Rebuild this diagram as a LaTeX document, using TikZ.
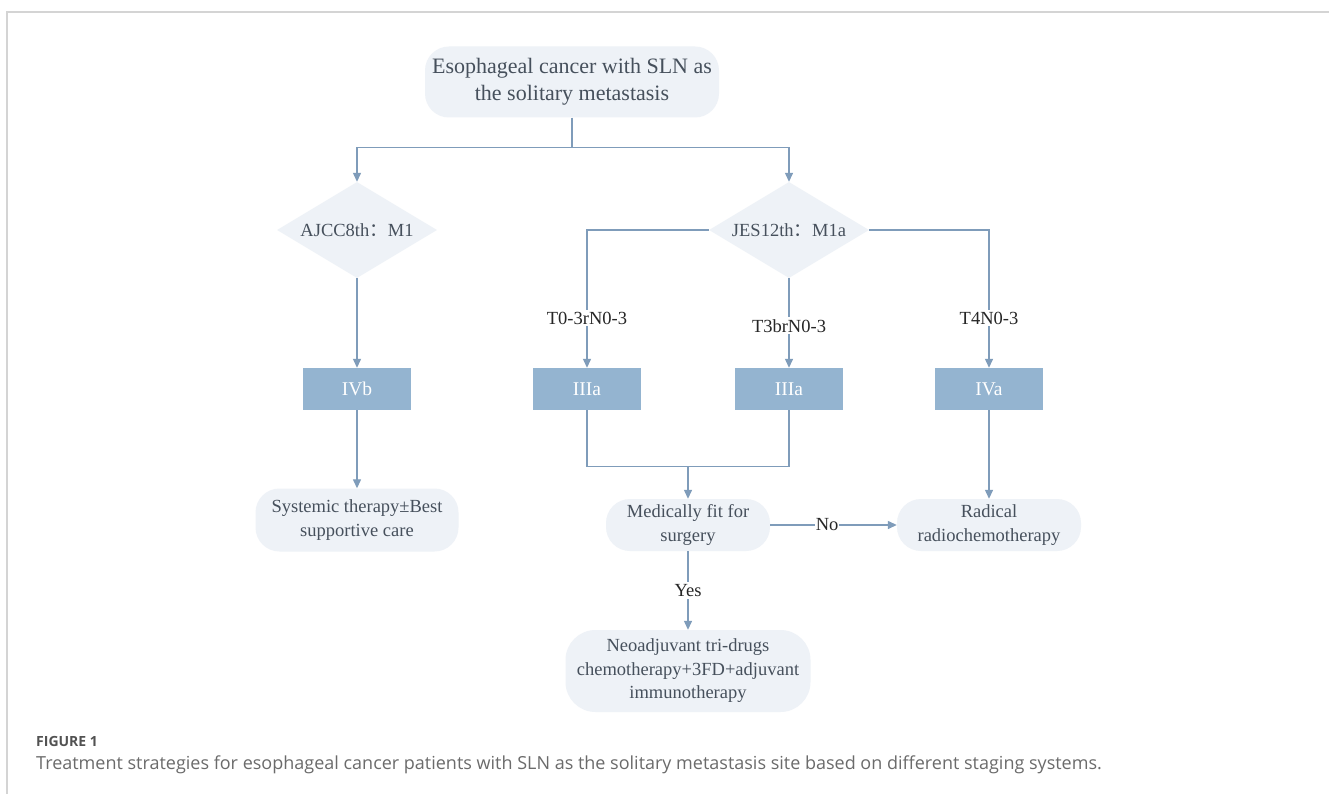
\documentclass[tikz,border=0pt]{standalone}
\usepackage{fontspec}
\setmainfont{Liberation Serif}
\newfontfamily\capfont{Open Sans}
\newfontfamily\cjkfont{Noto Sans CJK SC}
\usetikzlibrary{shapes.geometric,arrows.meta}
\definecolor{ln}{HTML}{7F9CBA}
\definecolor{bx}{HTML}{94B4D0}
\definecolor{lt}{HTML}{EEF2F7}
\definecolor{tx}{HTML}{46505C}
\definecolor{frame}{HTML}{D4D4D4}
\begin{document}
\begin{tikzpicture}[x=1pt,y=-1pt,
  conn/.style={draw=ln, line width=1.3pt},
  arr/.style={conn, -{Triangle[length=9pt,width=8pt]}},
  soft/.style={fill=lt, rounded corners=24pt, text=tx, align=center, inner sep=0pt, font=\fontsize{18.5}{23.5}\selectfont},
  dia/.style={diamond, fill=lt, aspect=1.67, minimum width=160pt, minimum height=96pt, inner sep=0pt, text=tx, font=\fontsize{18.5}{20}\selectfont},
  stage/.style={fill=bx, minimum width=108pt, minimum height=42pt, inner sep=0pt, text=white, font=\fontsize{19.5}{20}\selectfont},
  lab/.style={fill=white, text=black!85, inner sep=2pt, font=\fontsize{18.5}{20}\selectfont}]
\useasboundingbox (0,0) rectangle (1329,794);
\fill[white] (0,0) rectangle (1329,794);
\draw[frame, line width=1.5pt] (1329,12) -- (7,12) -- (7,794);

% nodes
\node[soft, minimum width=294pt, minimum height=71pt, font=\fontsize{22}{27}\selectfont] (top) at (572,82) {Esophageal cancer with SLN as\\the solitary metastasis};
\node[dia] (ajcc) at (357,230) {AJCC8th{\cjkfont ：}M1};
\node[dia] (jes) at (789,230) {JES12th{\cjkfont ：}M1a};
\node[stage] (ivb) at (357,389) {IVb};
\node[stage] (iiia1) at (587,389) {IIIa};
\node[stage] (iiia2) at (789,389) {IIIa};
\node[stage] (iva) at (989,389) {IVa};
\node[soft, minimum width=203pt, minimum height=63pt] (sys) at (357,520) {Systemic therapy±Best\\supportive care};
\node[soft, minimum width=164pt, minimum height=52pt] (med) at (688,525) {Medically fit for\\surgery};
\node[soft, minimum width=184pt, minimum height=52pt] (rad) at (989,525) {Radical\\radiochemotherapy};
\node[soft, minimum width=245pt, minimum height=82pt, rounded corners=30pt] (neo) at (688,671) {Neoadjuvant tri-drugs\\chemotherapy+3FD+adjuvant\\immunotherapy};

% connectors
\draw[arr] (top.south) -- ++(0,30) coordinate (split) -| (ajcc.north);
\draw[arr] (split) -| (jes.north);
\draw[arr] (ajcc.south) -- (ivb.north);
\draw[arr] (jes.west) -| node[lab, pos=0.82] {T0-3rN0-3} (iiia1.north);
\draw[arr] (jes.south) -- node[lab, pos=0.53] {T3brN0-3} (iiia2.north);
\draw[arr] (jes.east) -| node[lab, pos=0.82] {T4N0-3} (iva.north);
\draw[arr] (ivb.south) -- (sys.north);
\draw[conn] (iiia1.south) -- ++(0,56) coordinate (mergeL) -- (mergeL -| iiia2.south) -- (iiia2.south);
\coordinate (merge) at (mergeL -| med.north);
\draw[arr] (merge) -- (med.north);
\draw[arr] (iva.south) -- (rad.north);
\draw[arr] (med.east) -- node[lab, pos=0.45, inner sep=1pt] {No} (rad.west);
\draw[arr] (med.south) -- node[lab, pos=0.5] {Yes} (neo.north);

% caption
\node[anchor=west, inner sep=0pt, text=black!68, font=\capfont\fontsize{14}{16}\selectfont\bfseries] (fig) at (36,741) {FIGURE 1};
\node[anchor=west, inner sep=0pt, text=black!58, font=\capfont\fontsize{18}{20}\selectfont] (cap) at (36,765) {Treatment strategies for esophageal cancer patients with SLN as the solitary metastasis site based on different staging systems.};
\end{tikzpicture}
\end{document}
